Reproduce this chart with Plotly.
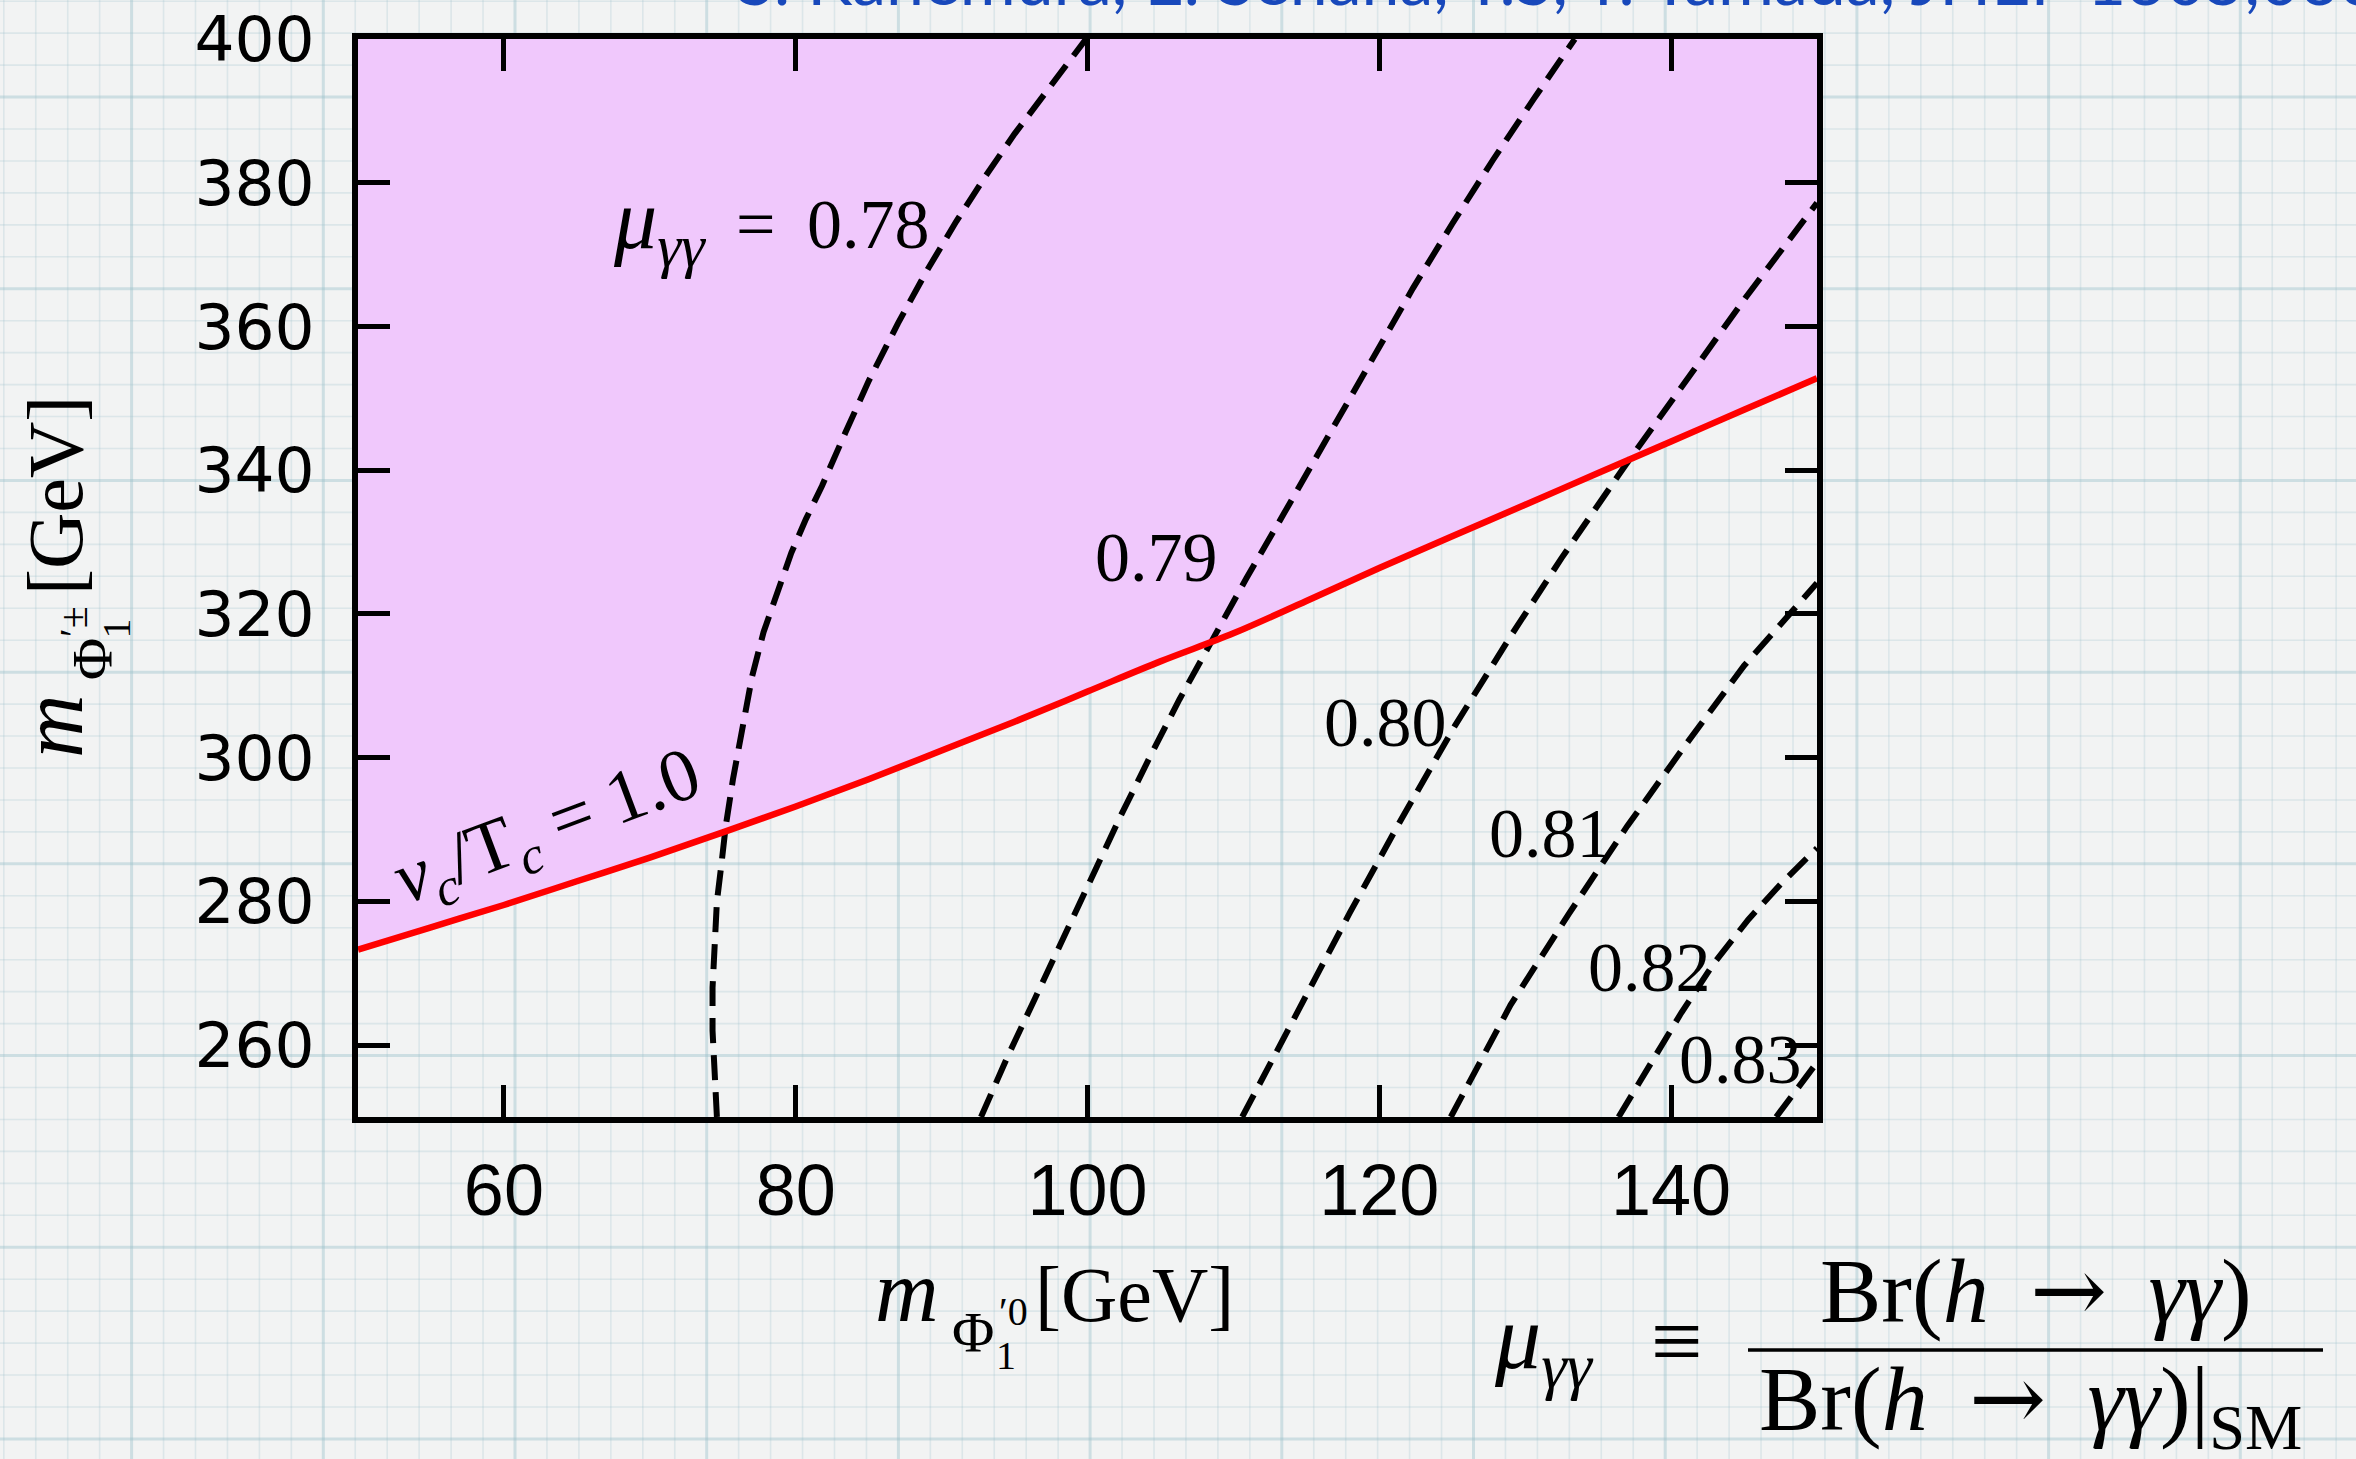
import plotly.graph_objects as go

# ---------------- data ----------------
X_RANGE = [50, 150]
Y_RANGE = [250, 400]
x_ticks = [60, 80, 100, 120, 140]
y_ticks = [260, 280, 300, 320, 340, 360, 380, 400]

# v_c / T_c = 1.0 boundary (strong first-order phase transition above it)
vc_m0 = [50, 55, 60, 65, 70, 75, 80, 85, 90, 95, 100, 105, 110, 115, 120, 125, 130, 135, 140, 145, 150]
vc_mpm = [273.3, 276.4, 279.5, 282.8, 286.1, 289.6, 293.2, 297.0, 301.0, 305.0, 309.2, 313.4,
          317.3, 321.8, 326.4, 330.8, 335.2, 339.6, 344.0, 348.4, 352.8]

# mu_gamma_gamma contours
mu_levels = ["0.78", "0.79", "0.80", "0.81", "0.82", "0.83"]
mu078_m0 = [74.6, 74.4, 74.3, 74.3, 74.4, 74.6, 74.9, 75.2, 75.7, 76.3, 77.0, 77.8, 78.7, 79.7, 80.7,
            81.8, 83.4, 85.0, 87.0, 89.0, 91.0, 93.0, 95.0, 97.0, 99.0, 99.9]
mu078_mpm = [250, 256, 262, 268, 274, 280, 285, 290.4, 297, 304, 311.2, 317.5, 323, 328.5, 333.2,
             337.8, 345.2, 352.4, 360.4, 367.8, 374.6, 380.9, 386.8, 392.3, 397.6, 400]
mu079_m0 = [92.7, 94.5, 96.4, 98.3, 100.2, 102.3, 104.3, 106.3, 108.4, 110.9, 113.5, 115.6, 117.7,
            120.0, 122.3, 125.0, 127.8, 130.6, 133.4]
mu079_mpm = [250, 258.3, 266.5, 274.8, 283.3, 292.0, 300.2, 308.1, 315.8, 325.0, 334.1, 341.6, 349.0,
             357.2, 365.3, 374.3, 383.2, 391.7, 400]
mu080_m0 = [110.6, 114.0, 118.0, 121.5, 125.2, 129.0, 132.5, 136.7, 141.0, 145.1, 150.0]
mu080_mpm = [250, 263.3, 278.5, 291.4, 304.5, 316.9, 327.8, 340.2, 352.5, 364.0, 377.2]
mu081_m0 = [124.9, 129.0, 133.0, 137.0, 141.0, 145.0, 150.0]
mu081_mpm = [250, 265.6, 278.3, 290.5, 301.8, 312.8, 324.3]
mu082_m0 = [136.4, 138.5, 140.7, 142.9, 145.3, 147.6, 150.0]
mu082_mpm = [250, 257.2, 264.5, 271.3, 277.5, 282.6, 287.4]
mu083_m0 = [147.2, 148.6, 150.0]
mu083_mpm = [250, 253.9, 257.6]

contours = [
    (mu078_m0, mu078_mpm),
    (mu079_m0, mu079_mpm),
    (mu080_m0, mu080_mpm),
    (mu081_m0, mu081_mpm),
    (mu082_m0, mu082_mpm),
    (mu083_m0, mu083_mpm),
]

# contour label anchor points (data coordinates)
label_x = [89.35, 104.72, 120.42, 131.75, 138.5, 144.75]
label_y = [374.1, 327.85, 304.9, 289.4, 270.8, 258.0]

# ---------------- layout geometry ----------------
FIG_W, FIG_H = 2356, 1459
L, R, T, B = 358, 539, 39, 342
PW = FIG_W - L - R
PH = FIG_H - T - B

SERIF = "Liberation Serif"
SANS = "Liberation Sans"
FILL = "#f0c8fc"
BG = "#f2f3f3"
NB = "\u00a0"
GAP = "\u00a0\u2009"
ARROW = '<span style="font-family:DejaVu Serif">→</span>'


def paper(X, Y):
    return (X - L) / PW, 1 - (Y - T) / PH


fig = go.Figure()

# shaded region above the v_c/T_c = 1 line
fig.add_trace(go.Scatter(
    x=vc_m0 + [X_RANGE[1], X_RANGE[0]],
    y=vc_mpm + [Y_RANGE[1], Y_RANGE[1]],
    fill="toself", fillcolor=FILL, mode="none", hoverinfo="skip", showlegend=False,
))

for cx, cy in contours:
    fig.add_trace(go.Scatter(
        x=cx, y=cy, mode="lines",
        line=dict(color="black", width=6, dash="25px,12px"),
        showlegend=False, hoverinfo="skip",
    ))

fig.add_trace(go.Scatter(
    x=vc_m0, y=vc_mpm, mode="lines",
    line=dict(color="#ff0000", width=6.5, shape="spline"),
    showlegend=False, hoverinfo="skip",
))

# ---------------- graph-paper background ----------------
shapes = []
minor = 31.95
MAJ_C = "rgba(150,190,200,0.40)"
MIN_C = "rgba(160,195,205,0.26)"
k = 0
while True:
    X = 3.8 + k * minor
    if X > FIG_W:
        break
    major = (k % 6) == 4
    x0, _ = paper(X, 0)
    shapes.append(dict(type="line", xref="paper", yref="paper", x0=x0, x1=x0,
                       y0=paper(0, FIG_H)[1], y1=paper(0, 0)[1], layer="below",
                       line=dict(color=MAJ_C if major else MIN_C, width=3 if major else 1.6)))
    k += 1
k = 0
while True:
    Y = 1.2 + k * minor
    if Y > FIG_H:
        break
    major = (k % 6) == 3
    _, y0 = paper(0, Y)
    shapes.append(dict(type="line", xref="paper", yref="paper", y0=y0, y1=y0,
                       x0=paper(0, 0)[0], x1=paper(FIG_W, 0)[0], layer="below",
                       line=dict(color=MAJ_C if major else MIN_C, width=3 if major else 1.6)))
    k += 1

# fraction bar of the mu_gamma_gamma definition
bx0, by = paper(1748, 1350)
bx1, _ = paper(2323, 1350)
shapes.append(dict(type="line", xref="paper", yref="paper", x0=bx0, x1=bx1, y0=by, y1=by,
                   line=dict(color="black", width=3.5)))

annotations = []


def piece(text, X, base, size, anchor="left", family=SERIF, color="black"):
    px_, py_ = paper(X, base - 0.34 * size)
    annotations.append(dict(text=text, x=px_, y=py_, xref="paper", yref="paper",
                            xanchor=anchor, yanchor="middle", showarrow=False, borderpad=0,
                            font=dict(family=family, size=size, color=color)))


def vpiece(text, u, v, size, start_y=759, base_x=82):
    px_, py_ = paper(base_x + v - 0.34 * size, start_y - u)
    annotations.append(dict(text=text, x=px_, y=py_, xref="paper", yref="paper",
                            xanchor="center", yanchor="bottom", textangle=-90, showarrow=False,
                            borderpad=0, font=dict(family=SERIF, size=size, color="black")))


# x-axis title
piece("<i>m</i>", 874, 1321, 88)
piece("Φ", 951, 1352, 58)
piece("′0", 998, 1325, 40)
piece("1", 995, 1369, 40)
piece("[GeV]", 1034, 1321, 78)

# y-axis title
vpiece("<i>m</i>", 0, 0, 88)
vpiece("Φ", 78, 31, 58)
vpiece("′±", 121, 5, 40)
vpiece("1", 120, 48, 40)
vpiece("[GeV]", 163, 0, 78)

# definition of mu_gamma_gamma
ratio = "Br(<i>h</i>" + GAP + ARROW + GAP + "<i>γγ</i>)"
piece("<i>μ</i><sub><i>γγ</i></sub>", 1493, 1375, 92)
piece("≡", 1650, 1372, 92)
piece(ratio, 2036, 1322, 92, anchor="center")
piece(ratio + "|<sub>SM</sub>", 1758, 1435, 92)

# reference line at the top
piece("S. Kanemura, E. Senaha, T.S, T. Yamada, JHEP 1305,066", 736, 2, 68,
      family="Lato", color="#1848bb")

# contour labels
for i, (lx, ly) in enumerate(zip(label_x, label_y)):
    if i == 0:
        txt = ('<span style="font-size:86px"><i>μ</i><sub><i>γγ</i></sub></span>'
               + GAP + "=" + GAP + mu_levels[i])
    else:
        txt = mu_levels[i]
    annotations.append(dict(text=txt, x=lx, y=ly, xref="x", yref="y",
                            xanchor="right" if i == 0 else "center", yanchor="middle",
                            showarrow=False, font=dict(family=SERIF, size=70, color="black")))

annotations.append(dict(text="<i>v</i><sub><i>c</i></sub>/T<sub><i>c</i></sub>" + NB + "=" + NB + "1.0",
                        x=63.0, y=290.0, xref="x", yref="y", textangle=-20.5,
                        xanchor="center", yanchor="middle", showarrow=False,
                        font=dict(family=SERIF, size=75, color="black")))

axis_common = dict(
    showline=True, linecolor="black", linewidth=5.5, mirror="ticks",
    ticks="inside", ticklen=32, tickwidth=4.5, tickcolor="black",
    showgrid=False, zeroline=False, automargin=False,
)

fig.update_layout(
    width=FIG_W, height=FIG_H, autosize=False,
    margin=dict(l=L, r=R, t=T, b=B, pad=0),
    paper_bgcolor=BG, plot_bgcolor="rgba(0,0,0,0)",
    showlegend=False,
    xaxis=dict(range=X_RANGE, tickvals=x_ticks, ticktext=[str(v) for v in x_ticks],
               ticklabelstandoff=6, tickfont=dict(family=SANS, size=72, color="black"),
               **axis_common),
    yaxis=dict(range=Y_RANGE, tickvals=y_ticks, ticktext=[str(v) for v in y_ticks],
               ticklabelstandoff=25, tickfont=dict(family="DejaVu Sans", size=63, color="black"),
               **axis_common),
    shapes=shapes,
    annotations=annotations,
)

fig.write_html("out.html")
